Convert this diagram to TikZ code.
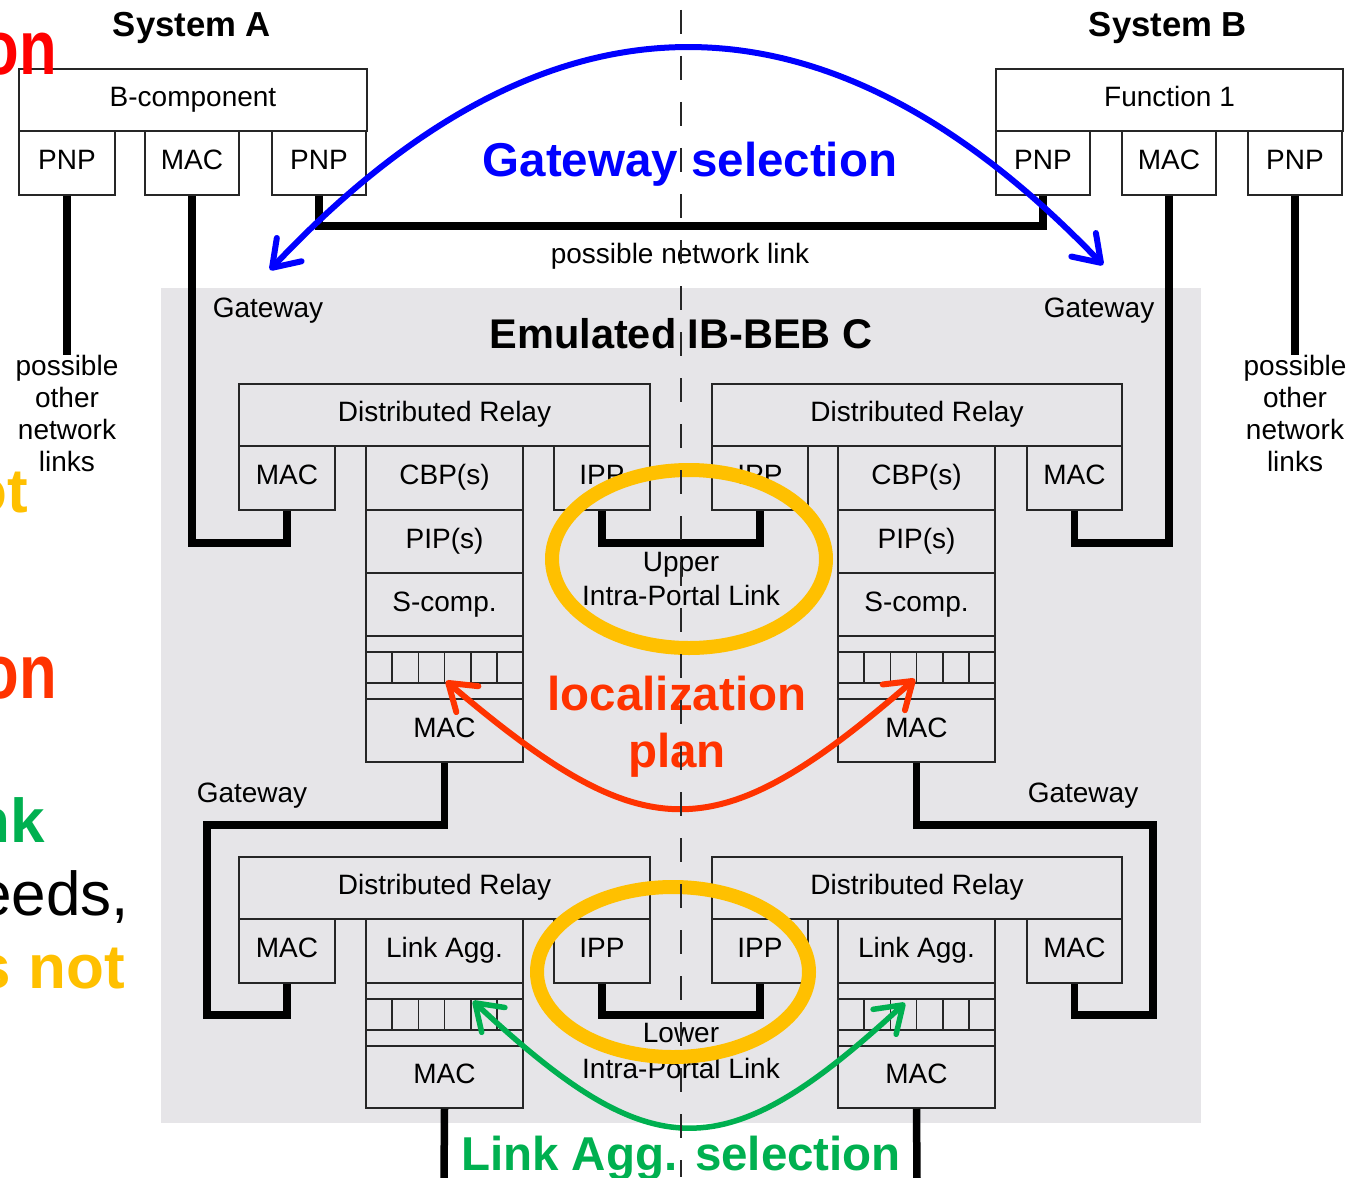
\documentclass[tikz,border=0pt]{standalone}
\usepackage{fontspec}
\setmainfont{Liberation Sans}
\usetikzlibrary{arrows.meta}
\definecolor{bggray}{RGB}{230,229,232}
\definecolor{ellyel}{RGB}{255,192,0}
\definecolor{selblue}{RGB}{0,0,255}
\definecolor{locred}{RGB}{255,51,0}
\definecolor{lagreen}{RGB}{0,176,80}
\definecolor{slred}{RGB}{255,0,0}
\newcommand\bx[6]{%
 \pgfmathsetmacro\bxw{#4-#2}\pgfmathsetmacro\bxh{#5-#3}%
 \node[box,minimum width=\bxw pt,minimum height=\bxh pt] (#1) at ({(#2+#4)/2},{(#3+#5)/2}) {#6};}
\newcommand\gridlines[2]{%
 \draw[boxline] ({#1},{#2+16}) -- ++(157,0) ({#1},{#2+47}) -- ++(157,0);
 \foreach \k in {1,...,5} \draw[boxline] ({#1+26.2*\k},{#2+16}) -- ++(0,31);}
\tikzset{
 box/.style={draw=black!85, line width=1.5pt, inner sep=0pt, font=\fontsize{28}{30}\selectfont, text height=20pt, text depth=7pt},
 boxline/.style={draw=black!85, line width=1.5pt},
 lbl/.style={inner sep=0pt, font=\fontsize{28}{31.7}\selectfont},
 wire/.style={draw=black, line width=7.5pt, line join=miter},
 ell/.style={draw=ellyel, line width=14pt},
 barbtip/.tip={Straight Barb[length=25pt,width=34pt,round]},
 selarrow/.style={line width=6pt, line cap=round, arrows={barbtip-barbtip}},
 big/.style={inner sep=0pt, font=\fontsize{47.5}{57}\selectfont\bfseries, align=center},
 frag/.style={inner sep=0pt, anchor=base east},
}
\begin{document}
\begin{tikzpicture}[x=1pt,y=-1pt]
\useasboundingbox (0,0) rectangle (1348,1177);
\fill[white] (0,0) rectangle (1348,1177);
\fill[bggray] (161,288) rectangle (1201,1123);

% System A
\node[inner sep=0pt, anchor=base, font=\fontsize{34.7}{40}\selectfont\bfseries] (sysA) at (192,37) {System A};
\bx{bcA}{19}{69}{367}{131}{B-component}
\bx{pnpA1}{19}{131}{115}{195}{PNP}
\bx{macA}{145}{131}{239}{195}{MAC}
\bx{pnpA2}{272}{131}{366}{195}{PNP}
% System B
\node[inner sep=0pt, anchor=base, font=\fontsize{34.7}{40}\selectfont\bfseries] (sysB) at (1168,37) {System B};
\bx{f1B}{996}{69}{1343}{131}{Function 1}
\bx{pnpB1}{996}{131}{1090}{195}{PNP}
\bx{macB}{1122}{131}{1216}{195}{MAC}
\bx{pnpB2}{1248}{131}{1342}{195}{PNP}

% upper left unit
\bx{ulR}{239}{384}{650}{446}{Distributed Relay}
\bx{ulM}{239}{446}{335}{510}{MAC}
\bx{ulC}{366}{446}{523}{510}{CBP(s)}
\bx{ulP}{366}{510}{523}{573}{PIP(s)}
\bx{ulS}{366}{573}{523}{636}{S-comp.}
\bx{ulG}{366}{636}{523}{699}{}
\bx{ulB}{366}{699}{523}{762}{MAC}
\bx{ulI}{554}{446}{650}{510}{IPP}
\gridlines{366}{636}
% upper right unit
\bx{urR}{712}{384}{1122}{446}{Distributed Relay}
\bx{urI}{712}{446}{808}{510}{IPP}
\bx{urC}{838}{446}{995}{510}{CBP(s)}
\bx{urP}{838}{510}{995}{573}{PIP(s)}
\bx{urS}{838}{573}{995}{636}{S-comp.}
\bx{urG}{838}{636}{995}{699}{}
\bx{urB}{838}{699}{995}{762}{MAC}
\bx{urM}{1027}{446}{1122}{510}{MAC}
\gridlines{838}{636}
% lower left unit
\bx{llR}{239}{857}{650}{919}{Distributed Relay}
\bx{llM}{239}{919}{335}{983}{MAC}
\bx{llL}{366}{919}{523}{983}{Link Agg.}
\bx{llG}{366}{983}{523}{1046}{}
\bx{llB}{366}{1046}{523}{1108}{MAC}
\bx{llI}{554}{919}{650}{983}{IPP}
\gridlines{366}{983}
% lower right unit
\bx{lrR}{712}{857}{1122}{919}{Distributed Relay}
\bx{lrI}{712}{919}{808}{983}{IPP}
\bx{lrL}{838}{919}{995}{983}{Link Agg.}
\bx{lrG}{838}{983}{995}{1046}{}
\bx{lrB}{838}{1046}{995}{1108}{MAC}
\bx{lrM}{1027}{919}{1122}{983}{MAC}
\gridlines{838}{983}

% wire coordinates
\coordinate (endA) at (67,355);
\coordinate (endB) at (1295,355);
\coordinate (yNet) at (0,226);
\coordinate (yUp) at (0,543);
\coordinate (yIplU) at (0,543);
\coordinate (yIplL) at (0,1015);
\coordinate (gL1) at (207,825);
\coordinate (gL2) at (207,1015);
\coordinate (gR1) at (1153,825);
\coordinate (gR2) at (1153,1015);
\coordinate (botL) at (444,1180);
\coordinate (botR) at (917,1180);

% wires
\draw[wire] (pnpA1.south) -- (endA);
\draw[wire] (pnpB2.south) -- (endB);
\draw[wire] (pnpA2.south) -- (pnpA2.south |- yNet) -| (pnpB1.south);
\draw[wire] (macA.south) -- (macA.south |- yUp) -| (ulM.south);
\draw[wire] (macB.south) -- (macB.south |- yUp) -| (urM.south);
\draw[wire] (ulI.south) -- (ulI.south |- yIplU) -| (urI.south);
\draw[wire] (llI.south) -- (llI.south |- yIplL) -| (lrI.south);
\draw[wire] (ulB.south) |- (gL1) -- (gL2) -| (llM.south);
\draw[wire] (urB.south) |- (gR1) -- (gR2) -| (lrM.south);
\draw[wire] (llB.south) -- (botL);
\draw[wire] (lrB.south) -- (botR);

% labels
\node[lbl, anchor=base] (netlink) at (680,263) {possible network link};
\node[lbl, anchor=base, align=center] (othA) at (67,471) {possible\\other\\network\\links};
\node[lbl, anchor=base, align=center] (othB) at (1295,471) {possible\\other\\network\\links};
\node[lbl, anchor=base] (gw1) at (268,317) {Gateway};
\node[lbl, anchor=base] (gw2) at (1099,317) {Gateway};
\node[lbl, anchor=base] (gw3) at (252,802) {Gateway};
\node[lbl, anchor=base] (gw4) at (1083,802) {Gateway};
\node[inner sep=0pt, anchor=base, font=\fontsize{41.5}{48}\selectfont\bfseries] (emu) at (681,348) {Emulated IB-BEB C};
\node[lbl, anchor=base, font=\fontsize{28}{34}\selectfont, align=center] (ipl1) at (681,605) {Upper\\Intra-Portal Link};
\node[lbl, anchor=base, font=\fontsize{28}{36}\selectfont, align=center] (ipl2) at (681,1078) {Lower\\Intra-Portal Link};

% ellipses
\draw[ell] (689,559) ellipse [x radius=137pt, y radius=89pt];
\draw[ell] (673,972) ellipse [x radius=136pt, y radius=85pt];

% selection arcs
\coordinate (bL) at (270,270);
\coordinate (bR) at (1103,265);
\coordinate (rL) at (446,681);
\coordinate (rR) at (915,679);
\coordinate (gL) at (473,1001);
\coordinate (gR) at (905,1003);
\draw[selarrow, selblue] (bL) .. controls (547,-24) and (824,-26) .. (bR);
\draw[selarrow, locred] (rL) .. controls (646,851) and (716,851) .. (rR);
\draw[selarrow, lagreen, line width=5.5pt] (gL) .. controls (653,1169) and (725,1169) .. (gR);

\node[big, text=selblue, anchor=base] (gwsel) at (690,177) {Gateway selection};
\node[big, text=locred, anchor=base] (locpl) at (677,767) {localization\\plan};
\node[big, text=lagreen, anchor=base] (lasel) at (681,1170) {Link Agg. selection};

% slide text fragments at the left edge
\node[frag, text=slred, xscale=0.8, font=\fontsize{77}{86}\selectfont\bfseries] (f1) at (57,75) {on};
\node[frag, text=ellyel, font=\fontsize{62}{70}\selectfont\bfseries] (f2) at (28,512) {ot};
\node[frag, text=locred, xscale=0.8, font=\fontsize{77}{86}\selectfont\bfseries] (f3) at (57,698) {on};
\node[frag, text=lagreen, font=\fontsize{62}{70}\selectfont\bfseries] (f4) at (45,842) {nk};
\node[frag, text=black, font=\fontsize{62}{70}\selectfont] (f5) at (129,915) {eeds,};
\node[frag, text=ellyel, font=\fontsize{62}{70}\selectfont\bfseries] (f6) at (125,988) {s not};

% centre divider
\draw[black!85, line width=1.5pt, dash pattern=on 24pt off 22pt] (681,10) -- (681,1177);
\end{tikzpicture}
\end{document}
